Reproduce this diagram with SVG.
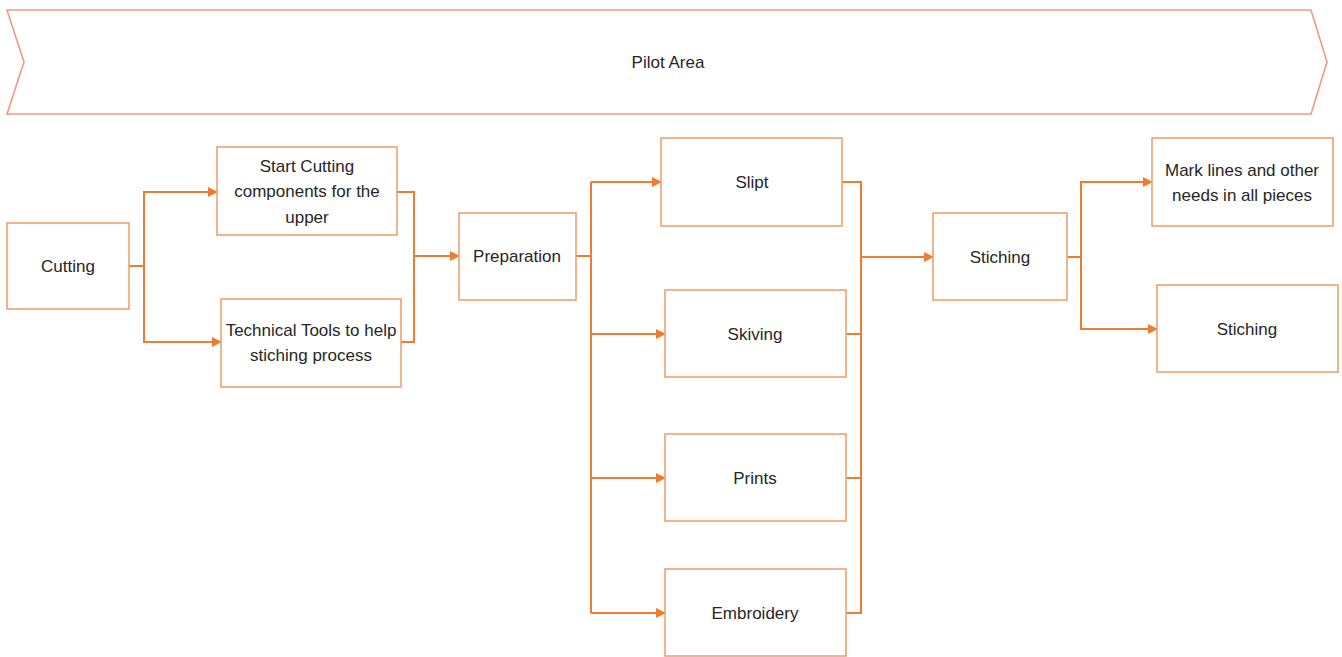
<svg xmlns="http://www.w3.org/2000/svg" width="1342" height="657" viewBox="0 0 1342 657">
  <defs>
    <marker id="arrow" viewBox="0 0 10 10" refX="9" refY="5" markerWidth="10" markerHeight="10" markerUnits="userSpaceOnUse" orient="auto">
      <path d="M0,0 L10,5 L0,10 z" fill="#ED7D31"/>
    </marker>
    <style>
      .box { fill: #ffffff; stroke: #F0A070; stroke-width: 1.6; }
      .banner { fill: #ffffff; stroke: #EE9A80; stroke-width: 1.6; }
      .wire { fill: none; stroke: #ED7D31; stroke-width: 2; }
      .label { font-family: "Liberation Sans", Arial, sans-serif; font-size: 17px; fill: #262626; text-anchor: middle; dominant-baseline: central; }
    </style>
  </defs>

  <rect width="1342" height="657" fill="#ffffff"/>

  <!-- Banner chevron -->
  <g id="pilot-area">
    <path class="banner" d="M7,10 L1311,10 L1327,62 L1311,114 L7,114 L24,62 Z"/>
    <text class="label" x="668" y="62">Pilot Area</text>
  </g>

  <!-- Connectors -->
  <g id="connectors">
    <!-- Cutting fan-out -->
    <path class="wire" d="M129,266 H144"/>
    <path class="wire" d="M144,266 V192 H217" marker-end="url(#arrow)"/>
    <path class="wire" d="M144,266 V342 H221" marker-end="url(#arrow)"/>
    <!-- merge into Preparation -->
    <path class="wire" d="M397,192 H414 V342 H401"/>
    <path class="wire" d="M414,256 H459" marker-end="url(#arrow)"/>
    <!-- Preparation fan-out -->
    <path class="wire" d="M576,256 H591"/>
    <path class="wire" d="M591,182 V613"/>
    <path class="wire" d="M591,182 H661" marker-end="url(#arrow)"/>
    <path class="wire" d="M591,334 H665" marker-end="url(#arrow)"/>
    <path class="wire" d="M591,478 H665" marker-end="url(#arrow)"/>
    <path class="wire" d="M591,613 H665" marker-end="url(#arrow)"/>
    <!-- merge into Stiching -->
    <path class="wire" d="M842,182 H861 V613 H846"/>
    <path class="wire" d="M846,334 H861"/>
    <path class="wire" d="M846,478 H861"/>
    <path class="wire" d="M861,257 H933" marker-end="url(#arrow)"/>
    <!-- Stiching fan-out -->
    <path class="wire" d="M1067,257 H1081"/>
    <path class="wire" d="M1081,257 V182 H1152" marker-end="url(#arrow)"/>
    <path class="wire" d="M1081,257 V329 H1157" marker-end="url(#arrow)"/>
  </g>

  <g id="cutting">
    <rect class="box" x="7" y="223" width="122" height="86"/>
    <text class="label" x="68" y="266">Cutting</text>
  </g>

  <g id="start-cutting">
    <rect class="box" x="217" y="147" width="180" height="88"/>
    <text class="label" x="307" y="166">Start Cutting</text>
    <text class="label" x="307" y="191">components for the</text>
    <text class="label" x="307" y="217">upper</text>
  </g>

  <g id="technical-tools">
    <rect class="box" x="221" y="299" width="180" height="88"/>
    <text class="label" x="311" y="330">Technical Tools to help</text>
    <text class="label" x="311" y="355">stiching process</text>
  </g>

  <g id="preparation">
    <rect class="box" x="459" y="213" width="117" height="87"/>
    <text class="label" x="517" y="256">Preparation</text>
  </g>

  <g id="slipt">
    <rect class="box" x="661" y="138" width="181" height="88"/>
    <text class="label" x="752" y="182">Slipt</text>
  </g>

  <g id="skiving">
    <rect class="box" x="665" y="290" width="181" height="87"/>
    <text class="label" x="755" y="334">Skiving</text>
  </g>

  <g id="prints">
    <rect class="box" x="665" y="434" width="181" height="87"/>
    <text class="label" x="755" y="478">Prints</text>
  </g>

  <g id="embroidery">
    <rect class="box" x="665" y="569" width="181" height="87"/>
    <text class="label" x="755" y="613">Embroidery</text>
  </g>

  <g id="stiching">
    <rect class="box" x="933" y="213" width="134" height="87"/>
    <text class="label" x="1000" y="257">Stiching</text>
  </g>

  <g id="mark-lines">
    <rect class="box" x="1152" y="138" width="181" height="88"/>
    <text class="label" x="1242" y="170">Mark lines and other</text>
    <text class="label" x="1242" y="195">needs in all pieces</text>
  </g>

  <g id="stiching-final">
    <rect class="box" x="1157" y="285" width="181" height="87"/>
    <text class="label" x="1247" y="329">Stiching</text>
  </g>
</svg>
